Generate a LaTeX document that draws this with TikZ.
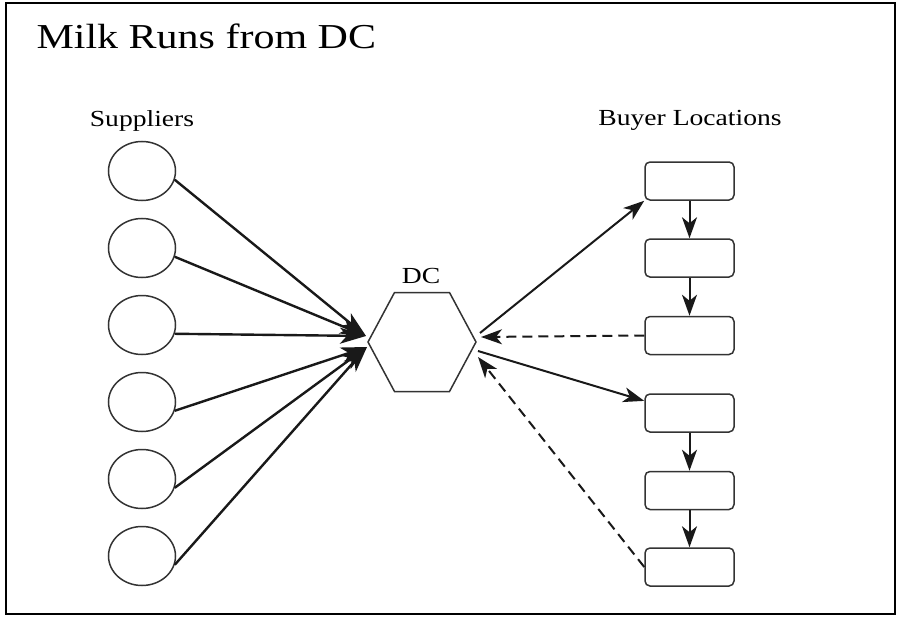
\documentclass[tikz,border=0pt]{standalone}
\usepackage{fontspec}
\setmainfont{Liberation Serif}[FakeStretch=1.2]
\usepackage{tikz}
\usetikzlibrary{shapes.geometric, arrows.meta}

\begin{document}
\begin{tikzpicture}[x=1pt, y=-1pt,
    supplier/.style={ellipse, draw=black!80, line width=1.5pt, minimum width=67pt, minimum height=59pt, inner sep=0pt},
    buyer/.style={rectangle, rounded corners=5pt, draw=black!80, line width=1.5pt, minimum width=89pt, minimum height=38pt, inner sep=0pt},
    hubbox/.style={rectangle, minimum width=108pt, minimum height=99pt, inner sep=0pt, outer sep=0pt},
    caption/.style={font=\fontsize{23}{27}\selectfont, anchor=base},
    feed/.style={-{Stealth[length=26pt, width=16pt, inset=7pt]}, draw=black!90, line width=2.4pt},
    run/.style={-{Stealth[length=21pt, width=15pt, inset=6pt]}, draw=black!90, line width=2pt},
    back/.style={run, dash pattern=on 10pt off 6pt}]

    \useasboundingbox (0,0) rectangle (898,618);
    \draw[line width=2.5pt] (6,3) rectangle (895,614);

    % headings
    \node[caption, anchor=base west, font=\fontsize{35}{40}\selectfont] (title) at (33,49) {Milk Runs from DC};
    \node[caption] (suppliers) at (142,126) {Suppliers};
    \node[caption] (buyers) at (690,125) {Buyer Locations};
    \node[caption] (dclabel) at (421,283) {DC};

    % suppliers
    \node[supplier] (s1) at (142,171) {};
    \node[supplier] (s2) at (142,248) {};
    \node[supplier] (s3) at (142,325) {};
    \node[supplier] (s4) at (142,402) {};
    \node[supplier] (s5) at (142,479) {};
    \node[supplier] (s6) at (142,556) {};

    % distribution centre
    \node[hubbox] (dc) at (422,342) {};
    \draw[black!80, line width=1.5pt, line join=miter] (dc.west) -- ([xshift=26.5pt]dc.north west)
        -- ([xshift=-26.5pt]dc.north east) -- (dc.east)
        -- ([xshift=-26.5pt]dc.south east) -- ([xshift=26.5pt]dc.south west) -- cycle;
    \coordinate (inA) at (366,336);
    \coordinate (inB) at (367,347);
    \coordinate (outA) at (480,333);
    \coordinate (retA) at (481,337);
    \coordinate (outB) at (478,351);
    \coordinate (retB) at (478,357);

    % buyer locations
    \node[buyer] (b1) at (689.5,181) {};
    \node[buyer] (b2) at (689.5,258) {};
    \node[buyer] (b3) at (689.5,335.5) {};
    \node[buyer] (b4) at (689.5,413) {};
    \node[buyer] (b5) at (689.5,490.5) {};
    \node[buyer] (b6) at (689.5,567) {};

    \draw[feed] (s1.-15) -- (inA);
    \draw[feed] (s2.-15) -- (inA);
    \draw[feed] (s3.-15) -- (inA);
    \draw[feed] (s4.-15) -- (inB);
    \draw[feed] (s5.-15) -- (inB);
    \draw[feed] (s6.-15) -- (inB);

    \draw[run] (outA) -- (b1.south west);
    \draw[run] (b1) -- (b2);
    \draw[run] (b2) -- (b3);
    \draw[back] (b3.west) -- (retA);
    \draw[run] (outB) -- (b4.165);
    \draw[run] (b4) -- (b5);
    \draw[run] (b5) -- (b6);
    \draw[back] (b6.west) -- (retB);
\end{tikzpicture}
\end{document}
